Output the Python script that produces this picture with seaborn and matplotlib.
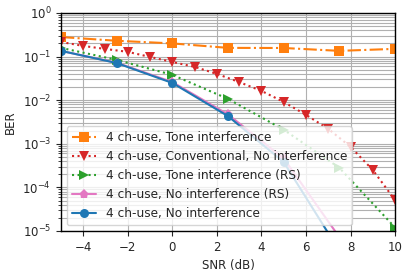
import seaborn as sns
import matplotlib.pyplot as plt
import pandas as pd

# SNR grids (dB)
snr_coarse = [-5, -2.5, 0, 2.5, 5, 7.5, 10]
snr_fine = [-5, -4, -3, -2, -1, 0, 1, 2, 3, 4, 5, 6, 7, 8, 9, 10]

# BER values
ber_tone = [0.28, 0.23, 0.20, 0.158, 0.157, 0.135, 0.15]
ber_conv = [0.216, 0.175, 0.149, 0.128, 0.098, 0.075, 0.058, 0.040, 0.026,
            0.0163, 0.0091, 0.0046, 0.0022, 8.5e-4, 2.5e-4, 5.1e-5]
ber_tone_rs = [0.158, 0.084, 0.038, 0.0107, 0.0021, 2.8e-4, 1.2e-5]
ber_none_rs = [0.135, 0.072, 0.026, 0.0047, 4.6e-4, 7.2e-6, 1e-8]
ber_none = [0.135, 0.071, 0.0248, 0.0043, 3.8e-4, 3.5e-6, 1e-8]

labels = ["4 ch-use, Tone interference",
          "4 ch-use, Conventional, No interference",
          "4 ch-use, Tone interference (RS)",
          "4 ch-use, No interference (RS)",
          "4 ch-use, No interference"]

sns.set_style("ticks")
plt.rcParams['font.family'] = ['DejaVu Sans']

fig = plt.figure(figsize=(4.09, 2.75), dpi=100)
ax = fig.add_axes([0.149, 0.16, 0.817, 0.793])

series = [
    (snr_coarse, ber_tone, labels[0], 'tab:orange', 's', '-.'),
    (snr_fine, ber_conv, labels[1], 'tab:red', 'v', ':'),
    (snr_coarse, ber_tone_rs, labels[2], 'tab:green', '>', ':'),
    (snr_coarse, ber_none_rs, labels[3], 'tab:pink', 'p', '-'),
    (snr_coarse, ber_none, labels[4], 'tab:blue', 'o', '-'),
]
for x, y, lab, col, mk, ls in series:
    df = pd.DataFrame({"SNR": x, "BER": y})
    sns.lineplot(data=df, x="SNR", y="BER", ax=ax, label=lab, color=col,
                 marker=mk, linestyle=ls, markersize=6.5, linewidth=1.5,
                 markeredgewidth=0)

ax.set_yscale('log')
ax.set_xlim(-5, 10)
ax.set_ylim(1e-5, 1)
ax.set_xticks([-4, -2, 0, 2, 4, 6, 8, 10])
ax.grid(True, which='major', color='#b0b0b0', linewidth=0.8)
ax.yaxis.grid(True, which='minor', color='#b0b0b0', linewidth=0.8)
ax.set_xlabel("SNR (dB)", fontsize=8.5)
ax.set_ylabel("BER", fontsize=8.5)
ax.tick_params(labelsize=8.5)
for s in ax.spines.values():
    s.set_color('black')
    s.set_linewidth(1.0)

ax.legend(loc='lower left', fontsize=8.7, framealpha=0.8, borderpad=0.4,
          labelspacing=0.5, handlelength=2.0)

fig.savefig("out.png", dpi=100)
